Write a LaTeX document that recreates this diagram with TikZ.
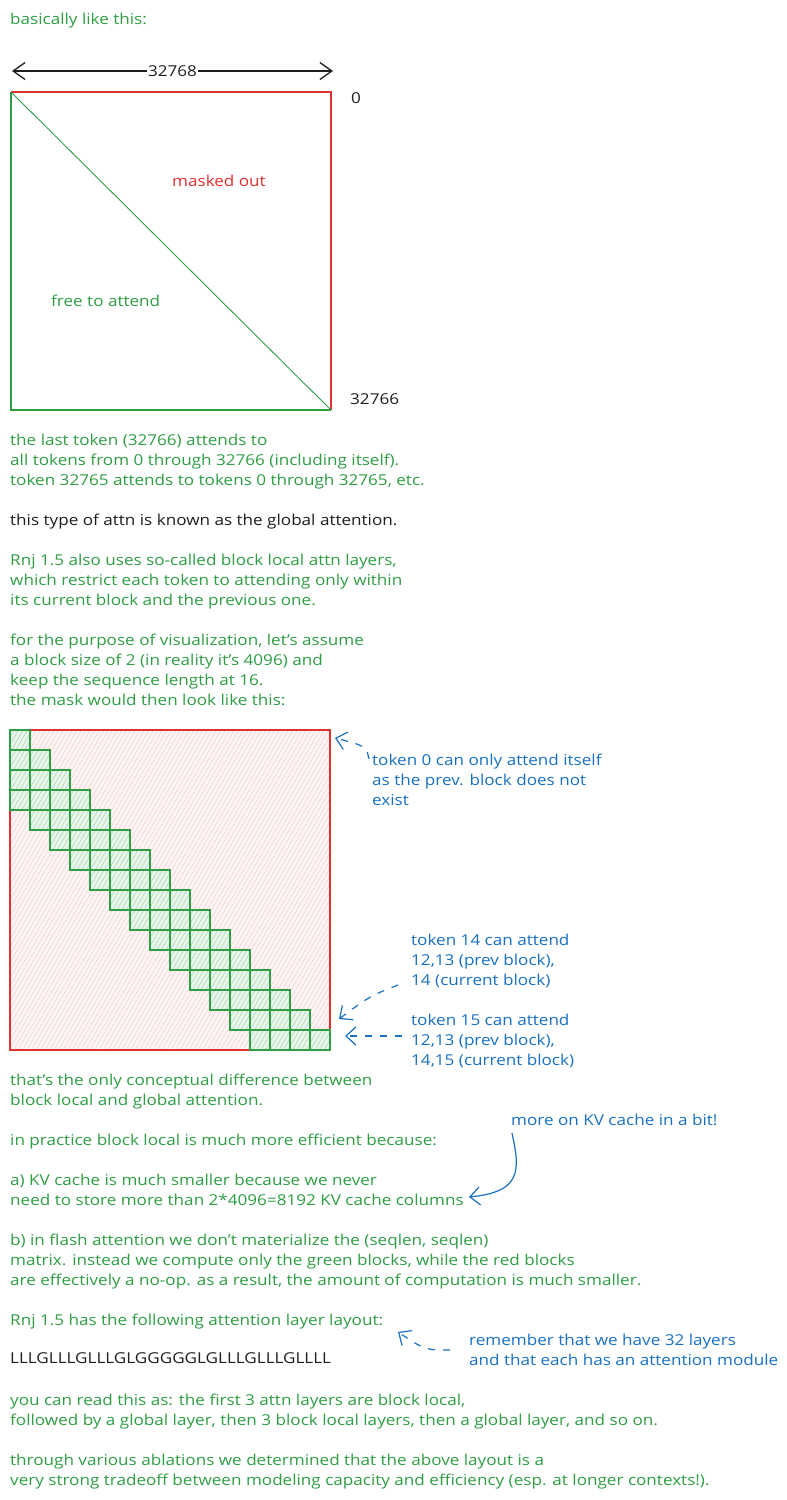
\documentclass[tikz,border=0pt]{standalone}
\usepackage{fontspec}
\setmainfont{Open Sans}[FakeStretch=1.14]
\usetikzlibrary{arrows.meta}
\definecolor{xgreen}{HTML}{2F9E44}
\definecolor{xred}{HTML}{E03131}
\definecolor{xblue}{HTML}{1971C2}
\definecolor{xblack}{HTML}{1E1E1E}
\begin{document}
\begin{tikzpicture}[x=1pt,y=-1pt,
  txt/.style={anchor=base west, inner sep=0pt, font=\fontsize{15}{20}\selectfont},
  gt/.style={txt, text=xgreen},
  bt/.style={txt, text=xblue},
  kt/.style={txt, text=xblack},
  rt/.style={txt, text=xred},
  barb/.style={-{Straight Barb[length=10pt,width=18pt]}},
  dbarb/.style={{Straight Barb[length=12pt,width=17pt]}-{Straight Barb[length=12pt,width=17pt]}},
  bluearrow/.style={barb, draw=xblue, line width=1.2pt},
  dashedblue/.style={bluearrow, dash pattern=on 7pt off 8pt},
  cellb/.style={draw=xgreen, line width=1.1pt},
  hatchline/.style={line width=0.45pt}
]
\useasboundingbox (0,0) rectangle (787,1500);
\fill[white] (0,0) rectangle (787,1500);

% ---------- first square ----------
\node[gt] (t0) at (10,24) {basically like this:};
\coordinate (aL) at (12,71);
\coordinate (aR) at (333,71);
\draw[dbarb, draw=xblack, line width=1.3pt] (aL) -- node[fill=white, inner sep=1.5pt, text=xblack, font=\fontsize{15}{20}\selectfont] (len) {32768} (aR);

\coordinate (q1) at (11,92);
\coordinate (q2) at (331,92);
\coordinate (q3) at (331,410);
\coordinate (q4) at (11,410);
\draw[xred, line width=1.1pt] (q1) -- (q2) -- (q3);
\draw[xgreen, line width=1.1pt] (q1) -- (q4) -- (q3);
\draw[xgreen, line width=0.9pt] (q1) -- (q3);
\node[kt] (zero) at (351,103) {0};
\node[kt] (last) at (350,404) {32766};
\node[rt] (masked) at (172,186) {masked out};
\node[gt] (free) at (51,306) {free to attend};

% ---------- text ----------
\node[gt] (l1) at (10,445) {the last token (32766) attends to};
\node[gt] (l2) at (10,465) {all tokens from 0 through 32766 (including itself).};
\node[gt] (l3) at (10,485) {token 32765 attends to tokens 0 through 32765, etc.};
\node[kt] (l4) at (10,525) {this type of attn is known as the global attention.};
\node[gt] (l5) at (10,565) {Rnj 1.5 also uses so-called block local attn layers,};
\node[gt] (l6) at (10,585) {which restrict each token to attending only within};
\node[gt] (l7) at (10,605) {its current block and the previous one.};
\node[gt] (l8) at (10,645) {for the purpose of visualization, let's assume};
\node[gt] (l9) at (10,665) {a block size of 2 (in reality it's 4096) and};
\node[gt] (l10) at (10,685) {keep the sequence length at 16.};
\node[gt] (l11) at (10,705) {the mask would then look like this:};

% ---------- block local mask ----------
\begin{scope}
  \clip (10,730) rectangle (330,1050);
  \fill[xred!5] (10,730) rectangle (330,1050);
  \foreach \k in {-42,...,74} \draw[hatchline, xred!28] ({\k*4.5},1050) -- ++(200,-346);
\end{scope}
\draw[xred, line width=1.1pt] (10,730) rectangle (330,1050);
\foreach \i in {0,...,15}{
  \pgfmathtruncatemacro\s{max(0,\i-3)}
  \begin{scope}
    \clip ({10+20*\s},{730+20*\i}) rectangle ({30+20*\i},{750+20*\i});
    \fill[white] ({10+20*\s},{730+20*\i}) rectangle ({30+20*\i},{750+20*\i});
    \fill[xgreen!10] ({10+20*\s},{730+20*\i}) rectangle ({30+20*\i},{750+20*\i});
    \foreach \k in {-42,...,74} \draw[hatchline, xgreen!45] ({\k*4.5},1050) -- ++(200,-346);
  \end{scope}
  \foreach \j in {\s,...,\i} \draw[cellb] ({10+20*\j},{730+20*\i}) rectangle ++(20,20);
}

% annotations
\coordinate (c0) at (335,738);
\coordinate (c0t) at (369,759);
\draw[dashedblue] (c0t) .. controls (366,746) .. (c0);
\node[bt] (a1) at (372,765) {token 0 can only attend itself};
\node[bt] (a2) at (372,785) {as the prev. block does not};
\node[bt] (a3) at (372,805) {exist};

\node[bt] (b1) at (411,945) {token 14 can attend};
\node[bt] (b2) at (411,965) {12,13 (prev block),};
\node[bt] (b3) at (411,985) {14 (current block)};
\coordinate (c14t) at (398,985);
\coordinate (c14) at (339,1019);
\draw[dashedblue] (c14t) .. controls (370,996) .. (c14);

\node[bt] (d1) at (411,1025) {token 15 can attend};
\node[bt] (d2) at (411,1045) {12,13 (prev block),};
\node[bt] (d3) at (411,1065) {14,15 (current block)};
\coordinate (c15t) at (402,1036);
\coordinate (c15) at (345,1036);
\draw[dashedblue] (c15t) -- (c15);

% ---------- lower text ----------
\node[gt] (m1) at (10,1085) {that's the only conceptual difference between};
\node[gt] (m2) at (10,1105) {block local and global attention.};
\node[gt] (m3) at (10,1145) {in practice block local is much more efficient because:};
\node[gt] (m4) at (10,1185) {a) KV cache is much smaller because we never};
\node[gt] (m5) at (10,1205) {need to store more than 2*4096=8192 KV cache columns};
\node[bt] (kv) at (511,1125) {more on KV cache in a bit!};
\coordinate (kvt) at (512,1133);
\coordinate (kvh) at (469,1197);
\draw[bluearrow] (kvt) .. controls (520,1170) and (522,1192) .. (kvh);

\node[gt] (n1) at (10,1245) {b) in flash attention we don't materialize the (seqlen, seqlen)};
\node[gt] (n2) at (10,1265) {matrix. instead we compute only the green blocks, while the red blocks};
\node[gt] (n3) at (10,1285) {are effectively a no-op. as a result, the amount of computation is much smaller.};
\node[gt] (n4) at (10,1325) {Rnj 1.5 has the following attention layer layout:};
\node[kt] (lay) at (10,1363) {LLLGLLLGLLLGLGGGGGLGLLLGLLLGLLLL};
\node[bt] (r1) at (469,1345) {remember that we have 32 layers};
\node[bt] (r2) at (469,1365) {and that each has an attention module};
\coordinate (rt) at (450,1350);
\coordinate (rh) at (398,1332);
\draw[dashedblue] (rt) .. controls (425,1350) .. (rh);

\node[gt] (p1) at (10,1405) {you can read this as: the first 3 attn layers are block local,};
\node[gt] (p2) at (10,1425) {followed by a global layer, then 3 block local layers, then a global layer, and so on.};
\node[gt] (p3) at (10,1465) {through various ablations we determined that the above layout is a};
\node[gt] (p4) at (10,1485) {very strong tradeoff between modeling capacity and efficiency (esp. at longer contexts!).};
\end{tikzpicture}
\end{document}
